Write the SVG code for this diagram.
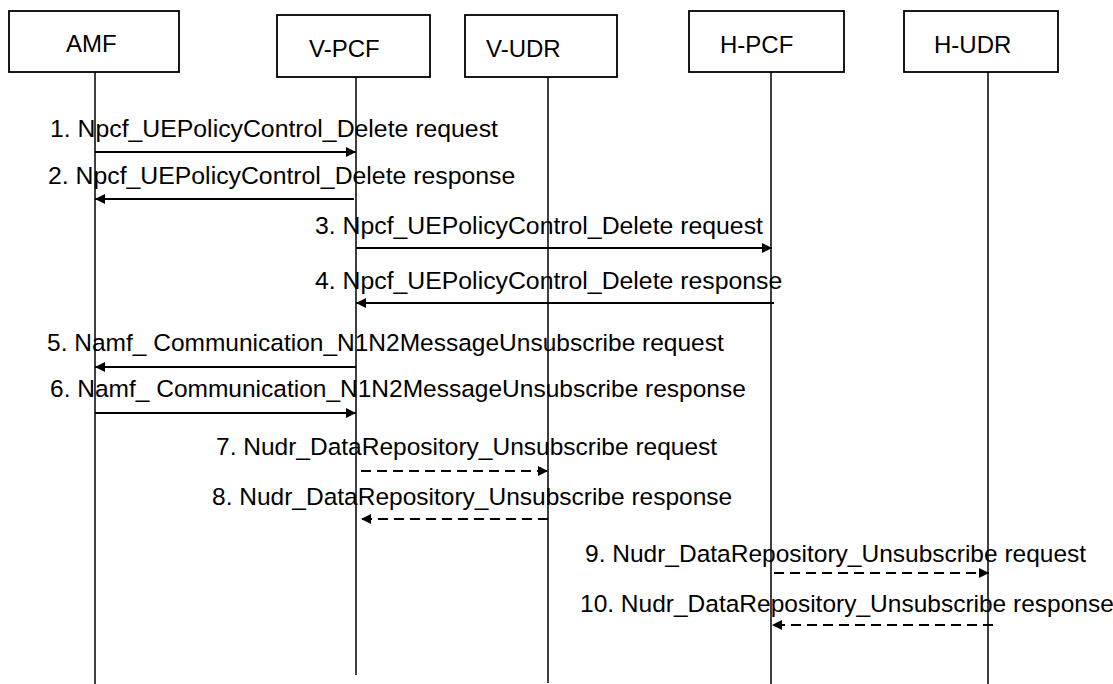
<svg xmlns="http://www.w3.org/2000/svg" width="1113" height="684" viewBox="0 0 1113 684">
<style>
  .box{fill:#fff;stroke:#000;stroke-width:1.8}
  .life{stroke:#000;stroke-width:1.5;fill:none}
  .name{font-family:"Liberation Sans",Arial,sans-serif;font-size:24px;fill:#000}
  .lbl{font-family:"Liberation Sans",Arial,sans-serif;font-size:24.5px;fill:#000}
  .wide{font-size:24.8px}
  .msg{stroke:#000;stroke-width:2.2;fill:none;marker-end:url(#ah)}
  .dash{stroke-dasharray:10 6}
</style>
<defs>
  <marker id="ah" markerUnits="userSpaceOnUse" markerWidth="11" markerHeight="11" refX="10" refY="5" orient="auto">
    <path d="M0,0 L10,5 L0,10 z" fill="#000"/>
  </marker>
</defs>
<rect width="1113" height="684" fill="#fff"/>
<g id="AMF">
  <rect class="box" x="9" y="11" width="170" height="61"/>
  <text class="name" x="66" y="52">AMF</text>
  <line class="life" x1="95" y1="72" x2="95" y2="684"/>
</g>
<g id="V-PCF">
  <rect class="box" x="277" y="15" width="153" height="62"/>
  <text class="name" x="309" y="57">V-PCF</text>
  <line class="life" x1="356" y1="77" x2="356" y2="675"/>
</g>
<g id="V-UDR">
  <rect class="box" x="465" y="15" width="152" height="62"/>
  <text class="name" x="486" y="57">V-UDR</text>
  <line class="life" x1="548" y1="77" x2="548" y2="683"/>
</g>
<g id="H-PCF">
  <rect class="box" x="689" y="11" width="155" height="61"/>
  <text class="name" x="720" y="53">H-PCF</text>
  <line class="life" x1="771" y1="72" x2="771" y2="684"/>
</g>
<g id="H-UDR">
  <rect class="box" x="904" y="11" width="154" height="61"/>
  <text class="name" x="934" y="53">H-UDR</text>
  <line class="life" x1="988" y1="72" x2="988" y2="684"/>
</g>
<g id="connectors">
  <line class="msg" x1="95" y1="152" x2="356" y2="152"/>
  <line class="msg" x1="354" y1="199" x2="95" y2="199"/>
  <line class="msg" x1="356" y1="248" x2="772" y2="248"/>
  <line class="msg" x1="774" y1="303" x2="356" y2="303"/>
  <line class="msg" x1="356" y1="367" x2="95" y2="367"/>
  <line class="msg" x1="95" y1="413" x2="356" y2="413"/>
  <line class="msg dash" x1="361" y1="471" x2="548" y2="471"/>
  <line class="msg dash" x1="548" y1="519" x2="361" y2="519"/>
  <line class="msg dash" x1="774" y1="573" x2="989" y2="573"/>
  <line class="msg dash" x1="993" y1="625" x2="772" y2="625"/>
</g>
<g id="labels">
  <text class="lbl wide" x="50" y="137">1. Npcf_UEPolicyControl_Delete request</text>
  <text class="lbl wide" x="48" y="184">2. Npcf_UEPolicyControl_Delete response</text>
  <text class="lbl wide" x="315" y="234">3. Npcf_UEPolicyControl_Delete request</text>
  <text class="lbl wide" x="315" y="289">4. Npcf_UEPolicyControl_Delete response</text>
  <text class="lbl" x="47" y="351">5. Namf_ Communication_N1N2MessageUnsubscribe request</text>
  <text class="lbl" x="50" y="397">6. Namf_ Communication_N1N2MessageUnsubscribe response</text>
  <text class="lbl" x="216" y="455">7. Nudr_DataRepository_Unsubscribe request</text>
  <text class="lbl" x="212" y="505">8. Nudr_DataRepository_Unsubscribe response</text>
  <text class="lbl" x="585" y="562">9. Nudr_DataRepository_Unsubscribe request</text>
  <text class="lbl" x="580" y="612">10. Nudr_DataRepository_Unsubscribe response</text>
</g>
</svg>
